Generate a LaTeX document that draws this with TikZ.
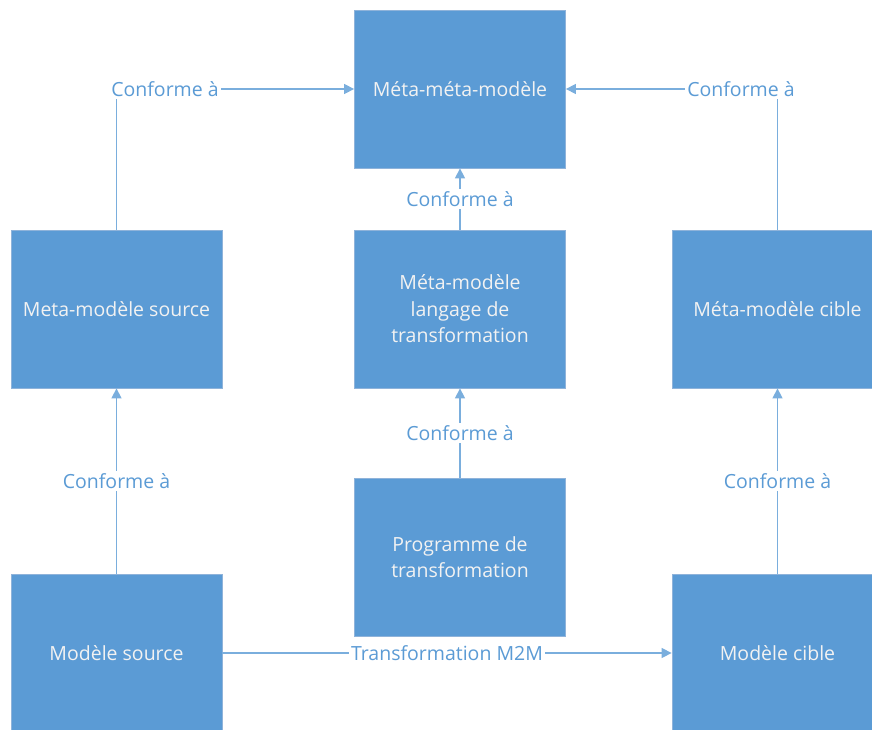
\documentclass[tikz,border=0pt]{standalone}
\usepackage{fontspec}
\setmainfont{Open Sans}
\usetikzlibrary{arrows.meta}
\definecolor{boxblue}{HTML}{5B9BD5}
\definecolor{boxedge}{HTML}{8FB3DA}
\definecolor{linkblue}{HTML}{7AAEDD}
\definecolor{labelblue}{HTML}{5B9BD5}
\definecolor{boxtext}{HTML}{F2F2F2}
\begin{document}
\begin{tikzpicture}[x=1pt,y=-1pt,
  blockbox/.style={draw=boxedge,line width=0.8pt,fill=boxblue,text=boxtext,
    minimum width=211pt,minimum height=158pt,inner sep=0pt,align=center,
    font=\fontsize{19.5}{26.5}\selectfont},
  link/.style={draw=linkblue,line width=1.4pt,-{Triangle[length=10pt,width=10pt]}},
  lbl/.style={fill=white,text=labelblue,inner sep=2pt,font=\fontsize{19.5}{22}\selectfont}]
\useasboundingbox (0,0) rectangle (872,730);
\node[blockbox] (mmm) at (460,89) {Méta-méta-modèle};
\node[blockbox] (mms) at (116.5,309) {Meta-modèle source};
\node[blockbox] (mml) at (460,309) {Méta-modèle\\langage de\\transformation};
\node[blockbox] (mmc) at (777.5,309) {Méta-modèle cible};
\node[blockbox] (prog) at (460,557) {Programme de\\transformation};
\node[blockbox] (ms) at (116.5,653) {Modèle source};
\node[blockbox] (mc) at (777.5,653) {Modèle cible};
\coordinate (cl) at (116.5,89);
\coordinate (cr) at (777.5,89);
\draw[link] (mms.north) -- (cl) -- (mmm.west);
\draw[link] (mmc.north) -- (cr) -- (mmm.east);
\draw[link] (mml.north) -- (mmm.south);
\draw[link] (prog.north) -- (mml.south);
\draw[link] (ms.north) -- (mms.south);
\draw[link] (mc.north) -- (mmc.south);
\draw[link] (ms.east) -- (mc.west);
\node[lbl] (l1) at (165,89) {Conforme à};
\node[lbl] (l2) at (741,89) {Conforme à};
\node[lbl] (l3) at (460,199) {Conforme à};
\node[lbl] (l4) at (460,433) {Conforme à};
\node[lbl] (l5) at (116.5,481) {Conforme à};
\node[lbl] (l6) at (777.5,481) {Conforme à};
\node[lbl] (l7) at (447,653) {Transformation M2M};
\end{tikzpicture}
\end{document}
